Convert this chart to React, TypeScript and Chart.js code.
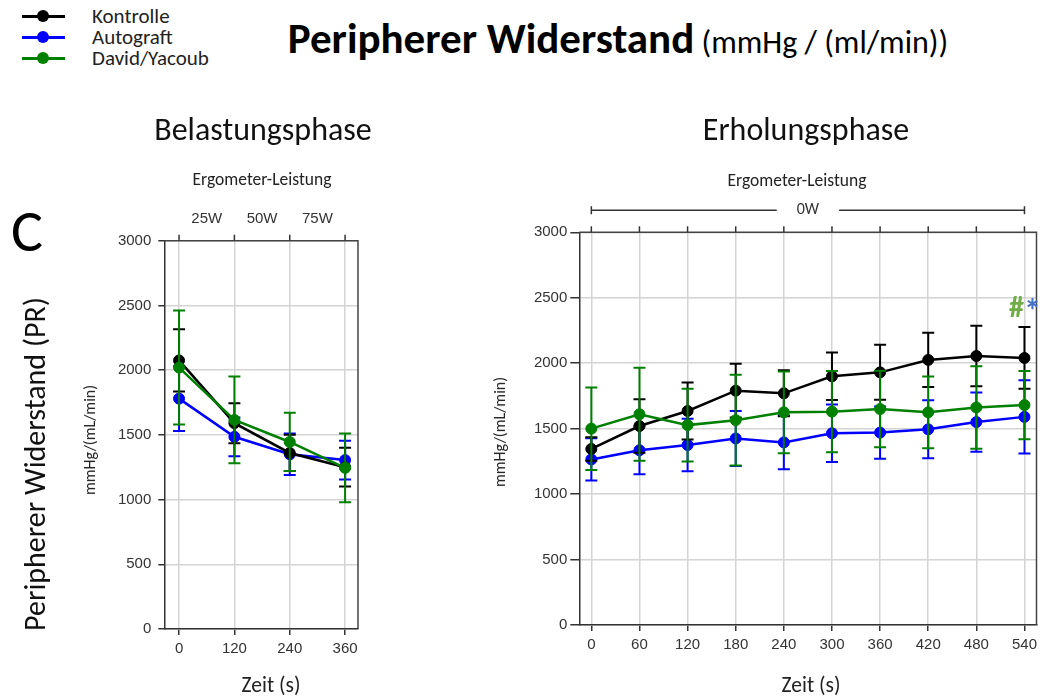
import { useEffect, useRef } from 'react';
import { Chart, registerables } from 'chart.js';

Chart.register(...registerables);

// ---------- DATA ----------
const leftTimes = [0, 120, 240, 360];
const leftKontrolle = [2075, 1590, 1360, 1250];
const leftKontrolleErr = [240, 155, 140, 150];
const leftAutograft = [1780, 1485, 1350, 1305];
const leftAutograftErr = [250, 150, 160, 150];
const leftDavid = [2020, 1615, 1445, 1245];
const leftDavidErr = [440, 335, 225, 265];
const leftPowerLabels = ['25W', '50W', '75W'];
const leftPowerPositions = [60, 180, 300];

const rightTimes = [0, 60, 120, 180, 240, 300, 360, 420, 480, 540];
const rightKontrolle = [1345, 1520, 1635, 1790, 1770, 1900, 1930, 2025, 2055, 2040];
const rightKontrolleErr = [90, 205, 218, 205, 176, 182, 210, 207, 231, 236];
const rightAutograft = [1265, 1335, 1375, 1425, 1395, 1465, 1470, 1495, 1550, 1590];
const rightAutograftErr = [162, 183, 200, 210, 205, 220, 200, 222, 227, 280];
const rightDavid = [1500, 1610, 1527, 1565, 1625, 1630, 1650, 1625, 1662, 1680];
const rightDavidErr = [315, 355, 277, 346, 312, 310, 292, 274, 315, 261];
const rightPowerLabel = '0W';

const yTickStep = 500;
const yMin = 0;
const yMax = 3000;

const seriesNames = ['Kontrolle', 'Autograft', 'David/Yacoub'];
const seriesColors = ['#000000', '#0000ff', '#008000'];

const TEXT_FONT = "Carlito, Lato, 'Open Sans', sans-serif";
const TICK_FONT = "'Liberation Sans', Arial, Helvetica, sans-serif";

// ---------- PLUGINS ----------
const errorBarPlugin = {
  id: 'errorBars',
  afterDatasetDraw(chart: any, args: any) {
    const ds: any = chart.data.datasets[args.index];
    const errs: number[] = ds.errors;
    if (!errs) return;
    const ys = chart.scales.y;
    const ctx = chart.ctx;
    ctx.save();
    ctx.strokeStyle = ds.borderColor;
    ctx.lineWidth = 2;
    args.meta.data.forEach((pt: any, i: number) => {
      const v = ds.data[i].y;
      const e = errs[i];
      const top = ys.getPixelForValue(v + e);
      const bot = ys.getPixelForValue(v - e);
      ctx.beginPath();
      ctx.moveTo(pt.x, top);
      ctx.lineTo(pt.x, bot);
      ctx.moveTo(pt.x - 6, top);
      ctx.lineTo(pt.x + 6, top);
      ctx.moveTo(pt.x - 6, bot);
      ctx.lineTo(pt.x + 6, bot);
      ctx.stroke();
    });
    ctx.restore();
  },
};

const decorPlugin = {
  id: 'decor',
  afterDraw(chart: any, _args: any, opts: any) {
    const { ctx, chartArea: ca, scales } = chart;
    const xs = scales.x;
    const ys = scales.y;
    ctx.save();
    // frame (top + right)
    ctx.strokeStyle = '#444';
    ctx.lineWidth = 1.5;
    ctx.beginPath();
    ctx.moveTo(ca.left, ca.top);
    ctx.lineTo(ca.right, ca.top);
    ctx.lineTo(ca.right, ca.bottom);
    ctx.stroke();
    // top tick marks
    ctx.strokeStyle = '#333';
    (opts.ticks || []).forEach((t: number) => {
      const px = xs.getPixelForValue(t);
      ctx.beginPath();
      ctx.moveTo(px, ca.top - 6);
      ctx.lineTo(px, ca.top);
      ctx.stroke();
    });
    // top labels
    ctx.fillStyle = '#333';
    ctx.font = `15px ${TICK_FONT}`;
    ctx.textAlign = 'center';
    ctx.textBaseline = 'middle';
    if (opts.topLabels) {
      opts.topLabels.forEach((lab: string, i: number) => {
        ctx.fillText(lab, xs.getPixelForValue(opts.topPositions[i]), ca.top - 22);
      });
    }
    if (opts.bracket) {
      const x0 = xs.getPixelForValue(opts.bracket.from);
      const x1 = xs.getPixelForValue(opts.bracket.to);
      const yb = ca.top - 22;
      const mid = (x0 + x1) / 2;
      ctx.font = `16px ${TEXT_FONT}`;
      const w = ctx.measureText(opts.bracket.label).width;
      const gap = w / 2 + 20;
      ctx.lineWidth = 1.5;
      ctx.strokeStyle = '#333';
      ctx.beginPath();
      ctx.moveTo(x0, yb);
      ctx.lineTo(mid - gap, yb);
      ctx.moveTo(mid + gap, yb);
      ctx.lineTo(x1, yb);
      ctx.moveTo(x0, yb - 4);
      ctx.lineTo(x0, yb + 4);
      ctx.moveTo(x1, yb - 4);
      ctx.lineTo(x1, yb + 4);
      ctx.stroke();
      ctx.fillText(opts.bracket.label, mid, yb);
    }
    if (opts.marks) {
      const m = opts.marks;
      const px = xs.getPixelForValue(m.x);
      const py = ys.getPixelForValue(m.y) - 18;
      ctx.font = `bold 30px ${TEXT_FONT}`;
      ctx.fillStyle = '#70ad47';
      ctx.fillText('#', px - 8, py);
      ctx.fillStyle = '#4472c4';
      ctx.font = `bold 34px ${TEXT_FONT}`;
      ctx.fillText('*', px + 8, py + 4);
    }
    ctx.restore();
  },
};

function makeDataset(label: string, color: string, times: number[], vals: number[], errs: number[], order: number) {
  return {
    label,
    data: times.map((t, i) => ({ x: t, y: vals[i] })),
    errors: errs,
    borderColor: color,
    backgroundColor: color,
    pointBackgroundColor: color,
    pointBorderColor: color,
    pointRadius: 5.5,
    pointBorderWidth: 1,
    borderWidth: 2.5,
    tension: 0,
    order,
  };
}

function buildOptions(cfg: any) {
  const tickFont = { family: TICK_FONT, size: 15 };
  return {
    responsive: false,
    maintainAspectRatio: false,
    animation: false,
    events: [],
    layout: { padding: cfg.padding },
    plugins: {
      legend: { display: false },
      tooltip: { enabled: false },
      decor: cfg.decor,
    },
    scales: {
      x: {
        type: 'linear',
        min: cfg.xMin,
        max: cfg.xMax,
        afterBuildTicks: (s: any) => {
          s.ticks = cfg.xTicks.map((v: number) => ({ value: v }));
        },
        afterFit: (s: any) => {
          s.height = 30;
        },
        grid: { color: '#d4d4d4', lineWidth: 1.5, tickLength: 6, tickColor: '#333', tickWidth: 1.5 },
        border: { color: '#333', width: 1.5 },
        ticks: {
          font: tickFont,
          color: '#333',
          padding: 5,
          maxRotation: 0,
          autoSkip: false,
          callback: (v: any) => String(v),
        },
      },
      y: {
        min: yMin,
        max: yMax,
        afterFit: (s: any) => {
          s.width = 60;
        },
        grid: { color: '#d4d4d4', lineWidth: 1.5, tickLength: cfg.yTickLen, tickColor: '#333', tickWidth: 1.5 },
        border: { color: '#333', width: 1.5 },
        ticks: {
          stepSize: yTickStep,
          font: tickFont,
          color: '#333',
          padding: cfg.yTickPad,
          callback: (v: any) => String(v),
        },
      },
    },
  };
}

function ChartCanvas(props: { left: number; top: number; width: number; height: number; config: any }) {
  const ref = useRef<HTMLCanvasElement | null>(null);
  useEffect(() => {
    if (!ref.current) return;
    const chart = new Chart(ref.current, props.config);
    return () => chart.destroy();
  }, []);
  return (
    <canvas
      ref={ref}
      width={props.width}
      height={props.height}
      style={{ position: 'absolute', left: props.left, top: props.top, width: props.width, height: props.height }}
    />
  );
}

function Label(props: { x: number; y: number; size: number; bold?: boolean; rotate?: boolean; color?: string; children: any }) {
  return (
    <div
      style={{
        position: 'absolute',
        left: props.x,
        top: props.y,
        transform: `translate(-50%, -50%)${props.rotate ? ' rotate(-90deg)' : ''}`,
        fontFamily: TEXT_FONT,
        fontSize: props.size,
        fontWeight: props.bold ? 700 : 400,
        color: props.color || '#111',
        whiteSpace: 'nowrap',
        lineHeight: 1,
        zIndex: 2,
      }}
    >
      {props.children}
    </div>
  );
}

export default function App() {
  const leftConfig = {
    type: 'line',
    data: {
      datasets: [
        makeDataset(seriesNames[0], seriesColors[0], leftTimes, leftKontrolle, leftKontrolleErr, 1),
        makeDataset(seriesNames[1], seriesColors[1], leftTimes, leftAutograft, leftAutograftErr, 2),
        makeDataset(seriesNames[2], seriesColors[2], leftTimes, leftDavid, leftDavidErr, 0),
      ],
    },
    options: buildOptions({
      padding: { left: 104.3, right: 42, top: 100.7, bottom: 41 },
      xMin: -32,
      xMax: 388,
      xTicks: leftTimes,
      yTickLen: 6,
      yTickPad: 7,
      decor: { ticks: leftTimes, topLabels: leftPowerLabels, topPositions: leftPowerPositions },
    }),
    plugins: [errorBarPlugin, decorPlugin],
  };

  const rightConfig = {
    type: 'line',
    data: {
      datasets: [
        makeDataset(seriesNames[0], seriesColors[0], rightTimes, rightKontrolle, rightKontrolleErr, 1),
        makeDataset(seriesNames[1], seriesColors[1], rightTimes, rightAutograft, rightAutograftErr, 2),
        makeDataset(seriesNames[2], seriesColors[2], rightTimes, rightDavid, rightDavidErr, 0),
      ],
    },
    options: buildOptions({
      padding: { left: 79.3, right: 5.3, top: 92.3, bottom: 45 },
      xMin: -15,
      xMax: 555,
      xTicks: rightTimes,
      yTickLen: 9,
      yTickPad: 3,
      decor: {
        ticks: rightTimes,
        bracket: { from: rightTimes[0], to: rightTimes[rightTimes.length - 1], label: rightPowerLabel },
        marks: {
          x: rightTimes[rightTimes.length - 1],
          y: rightKontrolle[rightKontrolle.length - 1] + rightKontrolleErr[rightKontrolleErr.length - 1],
        },
      },
    }),
    plugins: [errorBarPlugin, decorPlugin],
  };

  return (
    <div style={{ position: 'absolute', left: 0, top: 0, width: 1043, height: 700, background: '#fff', overflow: 'hidden' }}>
      {/* legend */}
      {seriesNames.map((name, i) => (
        <div key={name} style={{ position: 'absolute', left: 0, top: 16 + i * 21 - 10, height: 20, width: 260 }}>
          <div style={{ position: 'absolute', left: 22, top: 8.5, width: 43, height: 3, background: seriesColors[i] }} />
          <div
            style={{
              position: 'absolute',
              left: 37,
              top: 4,
              width: 12,
              height: 12,
              borderRadius: '50%',
              background: seriesColors[i],
            }}
          />
          <div
            style={{
              position: 'absolute',
              left: 92,
              top: 10,
              transform: 'translateY(-50%)',
              fontFamily: TEXT_FONT,
              fontSize: 21,
              lineHeight: 1,
              color: '#222',
              whiteSpace: 'nowrap',
            }}
          >
            {name}
          </div>
        </div>
      ))}

      {/* main title */}
      <div
        style={{
          position: 'absolute',
          left: 618,
          top: 38,
          transform: 'translate(-50%, -50%)',
          fontFamily: TEXT_FONT,
          whiteSpace: 'nowrap',
          lineHeight: 1,
          color: '#000',
        }}
      >
        <span style={{ fontSize: 43, fontWeight: 700 }}>Peripherer Widerstand</span>
        <span style={{ fontSize: 32 }}> (mmHg / (ml/min))</span>
      </div>

      <Label x={27} y={231} size={60} color="#000">C</Label>
      <Label x={35} y={464} size={30} rotate>Peripherer Widerstand (PR)</Label>

      <Label x={263} y={130} size={32}>Belastungsphase</Label>
      <Label x={806} y={130} size={32}>Erholungsphase</Label>
      <Label x={262} y={180} size={17.5} color="#222">Ergometer-Leistung</Label>
      <Label x={797} y={181} size={17.5} color="#222">Ergometer-Leistung</Label>

      <Label x={90} y={440} size={16} rotate color="#222">mmHg/(mL/min)</Label>
      <Label x={500} y={432} size={16} rotate color="#222">mmHg/(mL/min)</Label>

      <Label x={271} y={686} size={21.5} color="#222">Zeit (s)</Label>
      <Label x={811} y={686} size={21.5} color="#222">Zeit (s)</Label>

      <ChartCanvas left={0} top={140} width={400} height={560} config={leftConfig} />
      <ChartCanvas left={440} top={140} width={603} height={560} config={rightConfig} />
    </div>
  );
}
